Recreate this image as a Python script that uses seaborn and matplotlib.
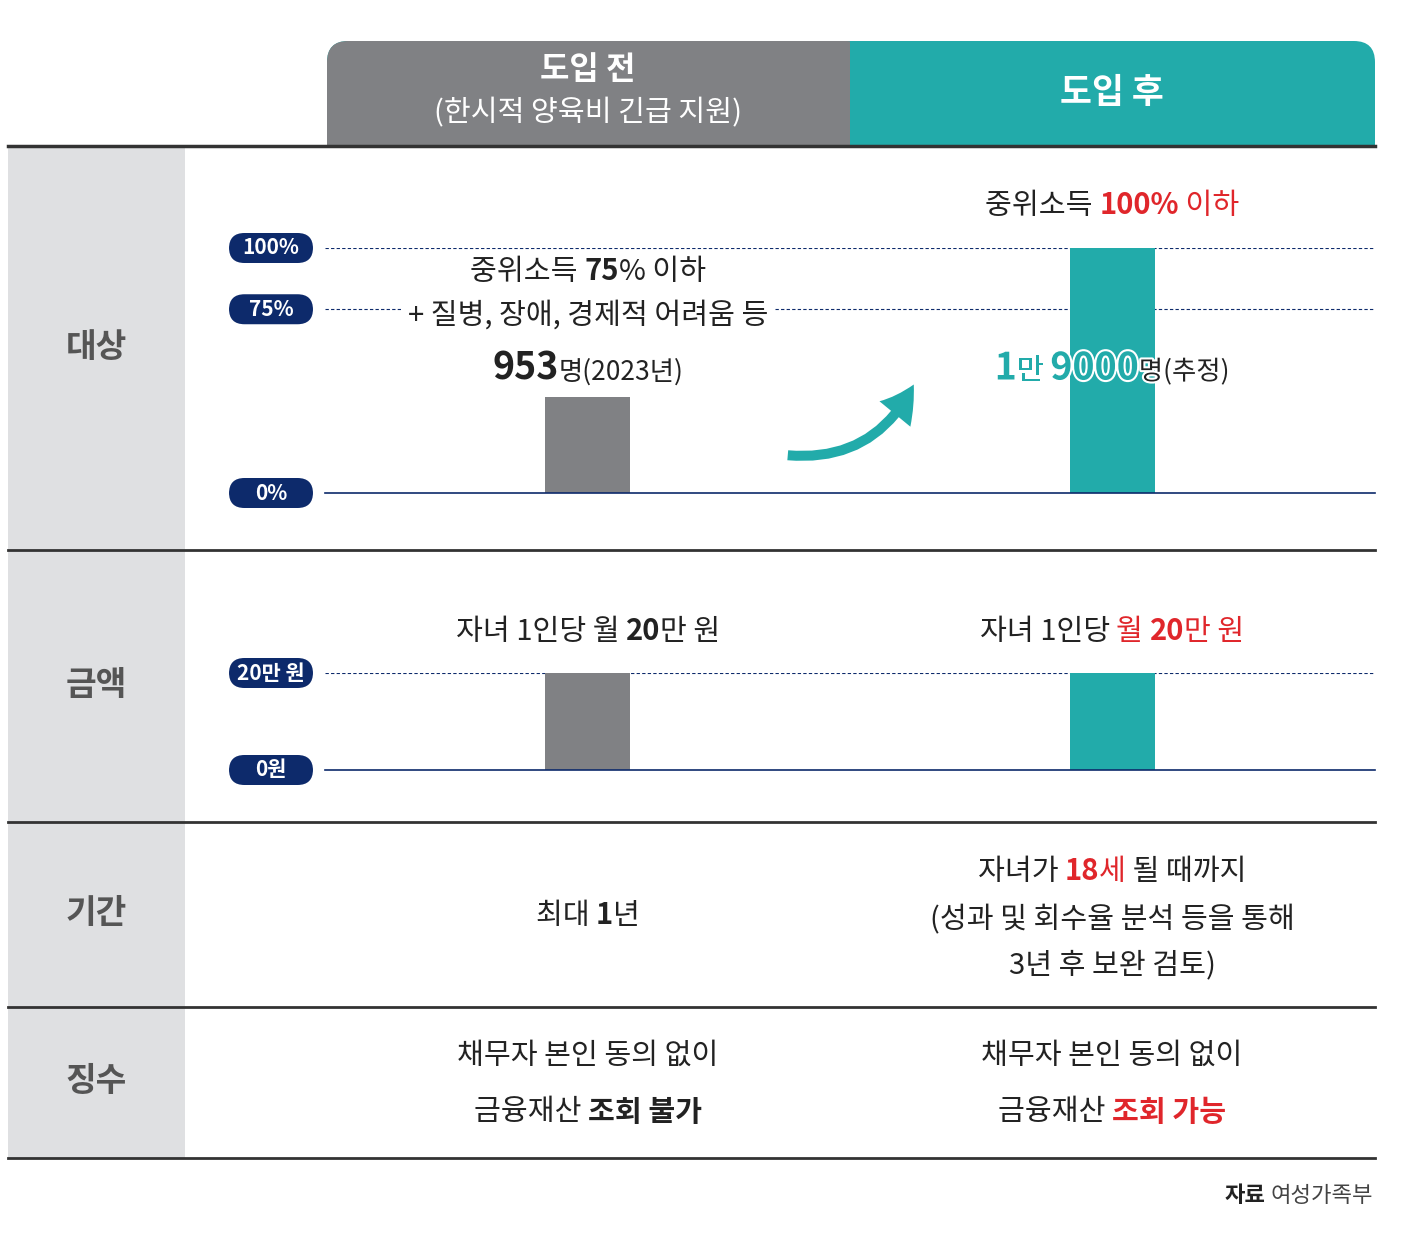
import matplotlib
matplotlib.use("Agg")
import matplotlib.pyplot as plt
import matplotlib.patheffects as pe
from matplotlib.patches import FancyBboxPatch, Rectangle, FancyArrowPatch
import seaborn as sns
import pandas as pd

W, H = 1408, 1249
plt.rcParams["font.family"] = ["Noto Sans CJK KR", "Noto Sans CJK JP", "Noto Sans CJK SC", "DejaVu Sans"]

GRAY = "#808184"
TEAL = "#22abaa"
NAVY = "#0d2a6b"
RED = "#e0262b"
DARK = "#222222"
LGRAY = "#dfe0e2"

# data
periods = ["도입 전", "도입 후"]
target_pct = [39, 100]          # bar heights in row 대상 (0~100%)
amount_man = [20, 20]           # 만 원
row_labels = ["대상", "금액", "기간", "징수"]
target_ticks = [(0, "0%"), (75, "75%"), (100, "100%")]
amount_ticks = [(0, "0원"), (20, "20만 원")]

fig = plt.figure(figsize=(W / 100, H / 100), dpi=100)
renderer = fig.canvas.get_renderer()


def fx(x):
    return x / W


def fy(y):
    return 1 - y / H


def rich(cx, cy, parts, size=21):
    arts = []
    for p in parts:
        txt, col, bold = p[:3]
        s = p[3] if len(p) > 3 else size
        t = fig.text(0, fy(cy), txt, color=col, fontsize=s,
                     fontweight="bold" if bold else "normal", ha="left", va="baseline")
        arts.append(t)
    widths = [a.get_window_extent(renderer).width for a in arts]
    x = cx - sum(widths) / 2
    for a, w in zip(arts, widths):
        a.set_x(fx(x))
        a.set_y(fy(cy + size * 0.5))
        x += w
    return arts


# header
for x0, w, c in [(327, 1048, TEAL), (327, 540, GRAY)]:
    fig.patches.append(FancyBboxPatch((fx(x0), fy(146)), fx(w), 105 / H, boxstyle="round,pad=0,rounding_size=0.015",
                                      transform=fig.transFigure, fc=c, ec="none", mutation_aspect=W / H))
fig.patches.append(Rectangle((fx(850), fy(146)), fx(30), 105 / H, transform=fig.transFigure, fc=TEAL, ec="none"))
fig.patches.append(Rectangle((fx(327), fy(146)), fx(523), 40 / H, transform=fig.transFigure, fc=GRAY, ec="none"))
fig.patches.append(Rectangle((fx(850), fy(146)), fx(525), 40 / H, transform=fig.transFigure, fc=TEAL, ec="none"))
fig.text(fx(588), fy(70), periods[0], color="white", fontsize=23, fontweight="bold", ha="center", va="center")
fig.text(fx(588), fy(113), "(한시적 양육비 긴급 지원)", color="white", fontsize=21, ha="center", va="center")
fig.text(fx(1112), fy(92), periods[1], color="white", fontsize=25, fontweight="bold", ha="center", va="center")

# left label column and row lines
fig.patches.append(Rectangle((fx(8), fy(1158)), fx(177), (1158 - 148) / H, transform=fig.transFigure,
                             fc=LGRAY, ec="none"))
for y, lw in [(146, 2.5), (550, 2), (822, 2), (1007, 2), (1158, 2)]:
    fig.add_artist(plt.Line2D([fx(8), fx(1375)], [fy(y), fy(y)], color="#333333", lw=lw,
                              transform=fig.transFigure))
for lab, y in zip(row_labels, [348, 686, 914, 1082]):
    fig.text(fx(96), fy(y), lab, color="#555555", fontsize=24, fontweight="bold", ha="center", va="center")


def badge(y, txt):
    fig.patches.append(FancyBboxPatch((fx(229), fy(y + 15)), fx(84), 30 / H,
                                      boxstyle="round,pad=0,rounding_size=0.011", mutation_aspect=W / H,
                                      transform=fig.transFigure, fc=NAVY, ec="none"))
    fig.text(fx(271), fy(y), txt, color="white", fontsize=15, fontweight="bold", ha="center", va="center")


def bar_axes(ybot, ytop, vals, vmax, ticks):
    ax = fig.add_axes([fx(325), fy(ybot), fx(1050), (ybot - ytop) / H])
    df = pd.DataFrame({"p": periods, "v": vals})
    sns.barplot(data=df, x="p", y="v", hue="p", palette=[GRAY, TEAL], width=0.162,
                legend=False, ax=ax, saturation=1)
    ax.set_xlim(-0.5, 1.5)
    ax.set_ylim(0, vmax)
    ax.axis("off")
    ax.axhline(0, color=NAVY, lw=1.2, clip_on=False)
    for v, t in ticks:
        if v > 0:
            ax.axhline(v, color=NAVY, lw=0.8, ls=(0, (3, 2)), zorder=0)
        badge(ybot - (ybot - ytop) * v / vmax, t)
    return ax


bar_axes(493, 248, target_pct, 100, target_ticks)
bar_axes(770, 673, amount_man, 20, amount_ticks)

# row 1 texts
rich(1112, 203, [("중위소득 ", DARK, False), ("100%", RED, True), (" 이하", RED, False)])
for a in rich(588, 270, [("중위소득 ", DARK, False), ("75", DARK, True), ("% 이하", DARK, False)]):
    a.set_bbox(dict(fc="white", ec="none", pad=1))
for a in rich(588, 313, [("+ 질병, 장애, 경제적 어려움 등", DARK, False)]):
    a.set_bbox(dict(fc="white", ec="none", pad=5))
rich(588, 369, [("953", DARK, True, 27), ("명(2023년)", DARK, False, 19)], size=21)
outline = [pe.withStroke(linewidth=3, foreground="white")]
for p in rich(1112, 369, [("1", TEAL, True, 27), ("만 ", TEAL, False, 21), ("9000", TEAL, True, 27),
                          ("명(추정)", DARK, False, 19)], size=21):
    p.set_path_effects(outline)

fig.add_artist(FancyArrowPatch((fx(785), fy(455)), (fx(915), fy(382)), transform=fig.transFigure,
                               connectionstyle="arc3,rad=0.35", arrowstyle="simple,head_width=1.6,head_length=1.4,tail_width=0.4",
                               mutation_scale=18, fc=TEAL, ec="none"))

# row 2 texts
rich(588, 630, [("자녀 1인당 월 ", DARK, False), ("20", DARK, True), ("만 원", DARK, False)])
rich(1112, 630, [("자녀 1인당 ", DARK, False), ("월 ", RED, False), ("20", RED, True), ("만 원", RED, False)])

# row 3
rich(588, 914, [("최대 ", DARK, False), ("1", DARK, True), ("년", DARK, False)])
rich(1112, 870, [("자녀가 ", DARK, False), ("18", RED, True), ("세", RED, False), (" 될 때까지", DARK, False)])
rich(1112, 918, [("(성과 및 회수율 분석 등을 통해", DARK, False)])
rich(1112, 963, [("3년 후 보완 검토)", DARK, False)])

# row 4
rich(588, 1053, [("채무자 본인 동의 없이", DARK, False)])
rich(588, 1110, [("금융재산 ", DARK, False), ("조회 불가", DARK, True)])
rich(1112, 1053, [("채무자 본인 동의 없이", DARK, False)])
rich(1112, 1110, [("금융재산 ", DARK, False), ("조회 가능", RED, True)])

src = fig.text(fx(1373), fy(1196), "여성가족부", color="#444444", fontsize=16, ha="right", va="center")
fig.text(fx(1373 - src.get_window_extent(renderer).width - 5), fy(1196), "자료", color=DARK,
         fontsize=16, fontweight="bold", ha="right", va="center")

fig.savefig("out.png", dpi=100, facecolor="white")
